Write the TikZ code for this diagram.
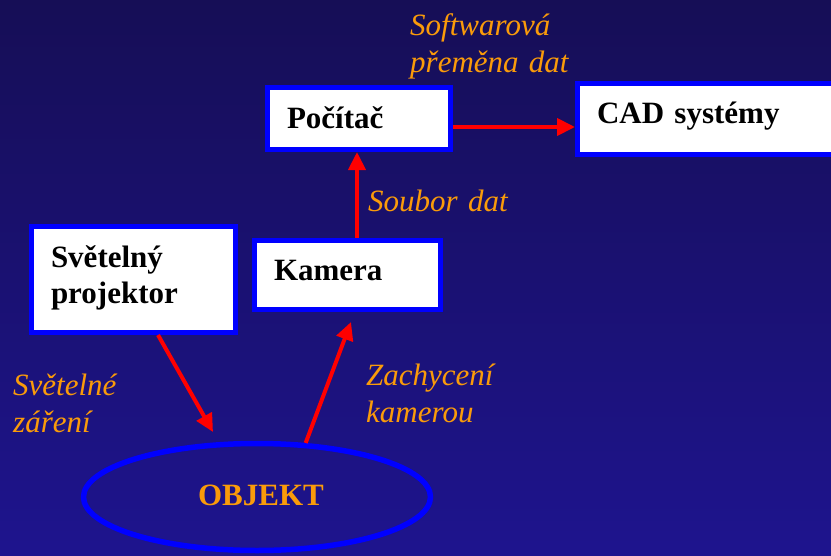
\documentclass[tikz,border=0pt]{standalone}
\usepackage{fontspec}
\setmainfont{Liberation Serif}
\usetikzlibrary{arrows.meta,shapes.geometric}
\definecolor{bgtop}{RGB}{22,14,86}
\definecolor{bgbot}{RGB}{30,20,142}
\definecolor{lblorange}{RGB}{250,155,10}
\definecolor{brdblue}{RGB}{0,0,255}
\definecolor{arrred}{RGB}{255,0,0}
\tikzset{
  boxnode/.style={rectangle, draw=brdblue, line width=5pt, fill=white,
    inner xsep=19.5pt, inner ysep=0pt, align=left, text height=22pt,
    font=\fontsize{31}{36}\selectfont\bfseries, text=black},
  lbl/.style={anchor=base west, inner sep=0pt, text width=200pt, align=left,
    font=\fontsize{31}{37}\selectfont\itshape, text=lblorange},
  arr/.style={draw=arrred, line width=4pt, -{Triangle[length=18pt,width=17pt]}},
}
\begin{document}
\begin{tikzpicture}[x=1pt,y=-1pt]
\useasboundingbox (0,0) rectangle (831,555);
\clip (0,0) rectangle (831,555);
\fill[top color=bgtop, bottom color=bgbot] (0,0) rectangle (831,555);

% boxes
\node[boxnode, text width=144pt, minimum height=62pt, text depth=3pt] (poc) at (359,118.5) {Počítač};
\node[boxnode, text width=251pt, minimum height=71pt, text depth=14pt] (cad) at (722.5,119) {CAD systémy};
\node[boxnode, text width=147pt, minimum height=69pt, text depth=12pt] (kam) at (347.5,275) {Kamera};
\node[boxnode, text width=165pt, minimum height=106pt, text depth=47pt] (proj) at (133.5,279.5) {Světelný\\projektor};
\node[ellipse, draw=brdblue, line width=5.5pt, minimum width=347pt, minimum height=107pt,
  inner sep=0pt, text height=16pt, text depth=0pt, text=lblorange,
  font=\fontsize{31}{36}\selectfont\bfseries] (obj) at (257,497) {\kern8pt OBJEKT};

% labels
\node[lbl] (lsoft) at (410,35) {Softwarová\\přeměna dat};
\node[lbl] (lsoub) at (368,211) {Soubor dat};
\node[lbl] (lsvet) at (13,395) {Světelné\\záření};
\node[lbl] (lzach) at (366,385) {Zachycení\\kamerou};

% free arrow ends
\coordinate (tipobj) at (213,432);
\coordinate (tipkam) at (351,322);

% connectors
\draw[arr] ([yshift=-8.5pt]poc.east) -- ([yshift=-8.5pt]poc.east -| cad.west);
\draw[arr] ([xshift=9.5pt]kam.north) -- ([xshift=9.5pt]kam.north |- poc.south);
\draw[arr] ([xshift=24.5pt]proj.south) -- (tipobj);
\draw[arr] (obj.48) -- (tipkam);
\end{tikzpicture}
\end{document}
